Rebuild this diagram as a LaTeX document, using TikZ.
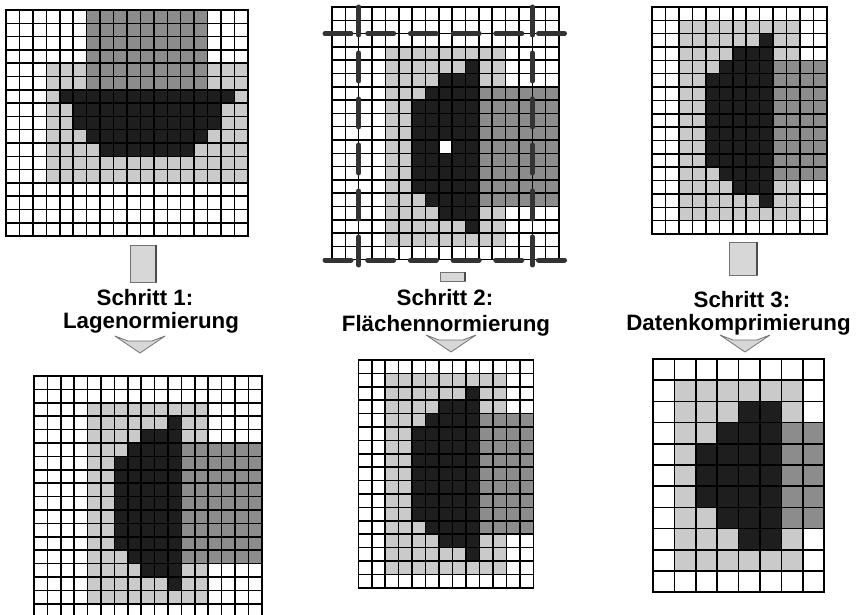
\documentclass[tikz,border=0pt]{standalone}
\usepackage{fontspec}
\setmainfont{Liberation Sans}
\definecolor{lightg}{HTML}{CACACA}
\definecolor{medg}{HTML}{8C8C8C}
\definecolor{darkg}{HTML}{1E1E1E}
\definecolor{dashg}{HTML}{333333}
\tikzset{
  gridline/.style={line width=1.5pt, black, line cap=rect},
  lightcell/.style={fill=lightg},
  medcell/.style={fill=medg},
  darkcell/.style={fill=darkg},
  holecell/.style={fill=white},
  bboxdash/.style={line width=5pt, color=dashg, line cap=round},
  stembox/.style={fill=lightg!75!white, draw=black!55, line width=0.6pt},
  stemshade/.style={line width=1.6pt, black!70},
  headshape/.style={fill=lightg!75!white, draw=black!55, line width=0.8pt, line join=round},
  steptext/.style={font=\bfseries\fontsize{22.3}{24}\selectfont, anchor=base, inner sep=0pt}
}
\newcommand\pixgrid[2]{%
  \foreach \i in {0,...,#1} \draw[gridline] (\i,0) -- (\i,#2);
  \foreach \j in {0,...,#2} \draw[gridline] (0,\j) -- (#1,\j);
}
\newcommand\blockhead[2]{%
  \draw[headshape] ({#1-25},#2) -- ({#1-12},{#2+5}) -- ({#1+12},{#2+5}) -- ({#1+25},#2) -- (#1,{#2+17}) -- cycle;
}
\begin{document}
\begin{tikzpicture}[x=1pt,y=-1pt]
\useasboundingbox (0,0) rectangle (860,615);
\fill[white] (0,0) rectangle (860,615);

% ---------- Grid 1 (top left) ----------
\begin{scope}[shift={(6,10)},x=13.44pt,y=-13.3pt]
  \fill[lightcell] (3,4) rectangle (18,13);
  \fill[medcell] (6,0) rectangle (15,6);
  \fill[darkcell] (4,6) rectangle (17,7) (5,7) rectangle (16,9)
                  (6,9) rectangle (15,10) (7,10) rectangle (14,11);
  \pixgrid{18}{17}
\end{scope}

% ---------- Grid 2 (top middle) ----------
\begin{scope}[shift={(332,7)},x=13.35pt,y=-13.3pt]
  \fill[lightcell] (4,3) rectangle (13,18);
  \fill[medcell] (11,6) rectangle (17,15);
  \fill[darkcell] (10,4) rectangle (11,5) (8,5) rectangle (11,6)
                  (7,6) rectangle (11,7) (6,7) rectangle (11,14)
                  (7,14) rectangle (11,15) (8,15) rectangle (11,16)
                  (10,16) rectangle (11,17);
  \fill[holecell] (8,10) rectangle (9,11);
  \pixgrid{17}{19}
\end{scope}
\draw[bboxdash, dash pattern=on 26pt off 16.7pt] (325,33.6) -- (568,33.6);
\draw[bboxdash, dash pattern=on 26pt off 16.7pt] (325,260) -- (568,260);
\draw[bboxdash, dash pattern=on 28pt off 18pt] (358.7,7) -- (358.7,267);
\draw[bboxdash, dash pattern=on 28pt off 18pt] (532.2,7) -- (532.2,267);

% ---------- Grid 3 (top right) ----------
\begin{scope}[shift={(652,7)},x=13.46pt,y=-13.35pt]
  \fill[lightcell] (2,1) rectangle (11,16);
  \fill[medcell] (9,4) rectangle (13,13);
  \fill[darkcell] (8,2) rectangle (9,3) (6,3) rectangle (9,4)
                  (5,4) rectangle (9,5) (4,5) rectangle (9,12)
                  (5,12) rectangle (9,13) (6,13) rectangle (9,14)
                  (8,14) rectangle (9,15);
  \pixgrid{13}{17}
\end{scope}

% ---------- Grid 4 (bottom left) ----------
\begin{scope}[shift={(34,376)},x=13.4pt,y=-13.4pt]
  \fill[lightcell] (4,2) rectangle (13,17);
  \fill[medcell] (11,5) rectangle (17,14);
  \fill[darkcell] (10,3) rectangle (11,4) (8,4) rectangle (11,5)
                  (7,5) rectangle (11,6) (6,6) rectangle (11,13)
                  (7,13) rectangle (11,14) (8,14) rectangle (11,15)
                  (10,15) rectangle (11,16);
  \pixgrid{17}{18}
\end{scope}

% ---------- Grid 5 (bottom middle) ----------
\begin{scope}[shift={(358.3,360)},x=13.46pt,y=-13.4pt]
  \fill[lightcell] (2,1) rectangle (11,16);
  \fill[medcell] (9,4) rectangle (13,13);
  \fill[darkcell] (8,2) rectangle (9,3) (6,3) rectangle (9,4)
                  (5,4) rectangle (9,5) (4,5) rectangle (9,12)
                  (5,12) rectangle (9,13) (6,13) rectangle (9,14)
                  (8,14) rectangle (9,15);
  \pixgrid{13}{17}
\end{scope}

% ---------- Grid 6 (bottom right) ----------
\begin{scope}[shift={(653,359)},x=21.4pt,y=-21.2pt]
  \fill[lightcell] (1,1) rectangle (7,10);
  \fill[medcell] (6,3) rectangle (8,8);
  \fill[darkcell] (4,2) rectangle (6,3) (3,3) rectangle (6,4)
                  (2,4) rectangle (6,7) (3,7) rectangle (6,8)
                  (4,8) rectangle (6,9);
  \pixgrid{8}{11}
\end{scope}

% ---------- Step arrows ----------
\draw[stembox] (130,245) rectangle (156,282);
\draw[stemshade] (156,245) -- (156,282);
\blockhead{140}{336}
\draw[stembox] (440,272) rectangle (465,281);
\draw[stemshade] (465,272) -- (465,281);
\blockhead{451}{335}
\draw[stembox] (729,242) rectangle (757,275);
\draw[stemshade] (757,242) -- (757,275);
\blockhead{745}{335}

% ---------- Labels ----------
\node[steptext] (t1a) at (145,305) {Schritt 1:};
\node[steptext] (t1b) at (151,328) {Lagenormierung};
\node[steptext] (t2a) at (445,305) {Schritt 2:};
\node[steptext] (t2b) at (446,331) {Flächennormierung};
\node[steptext] (t3a) at (742,307) {Schritt 3:};
\node[steptext] (t3b) at (738.5,330) {Datenkomprimierung};
\end{tikzpicture}
\end{document}
